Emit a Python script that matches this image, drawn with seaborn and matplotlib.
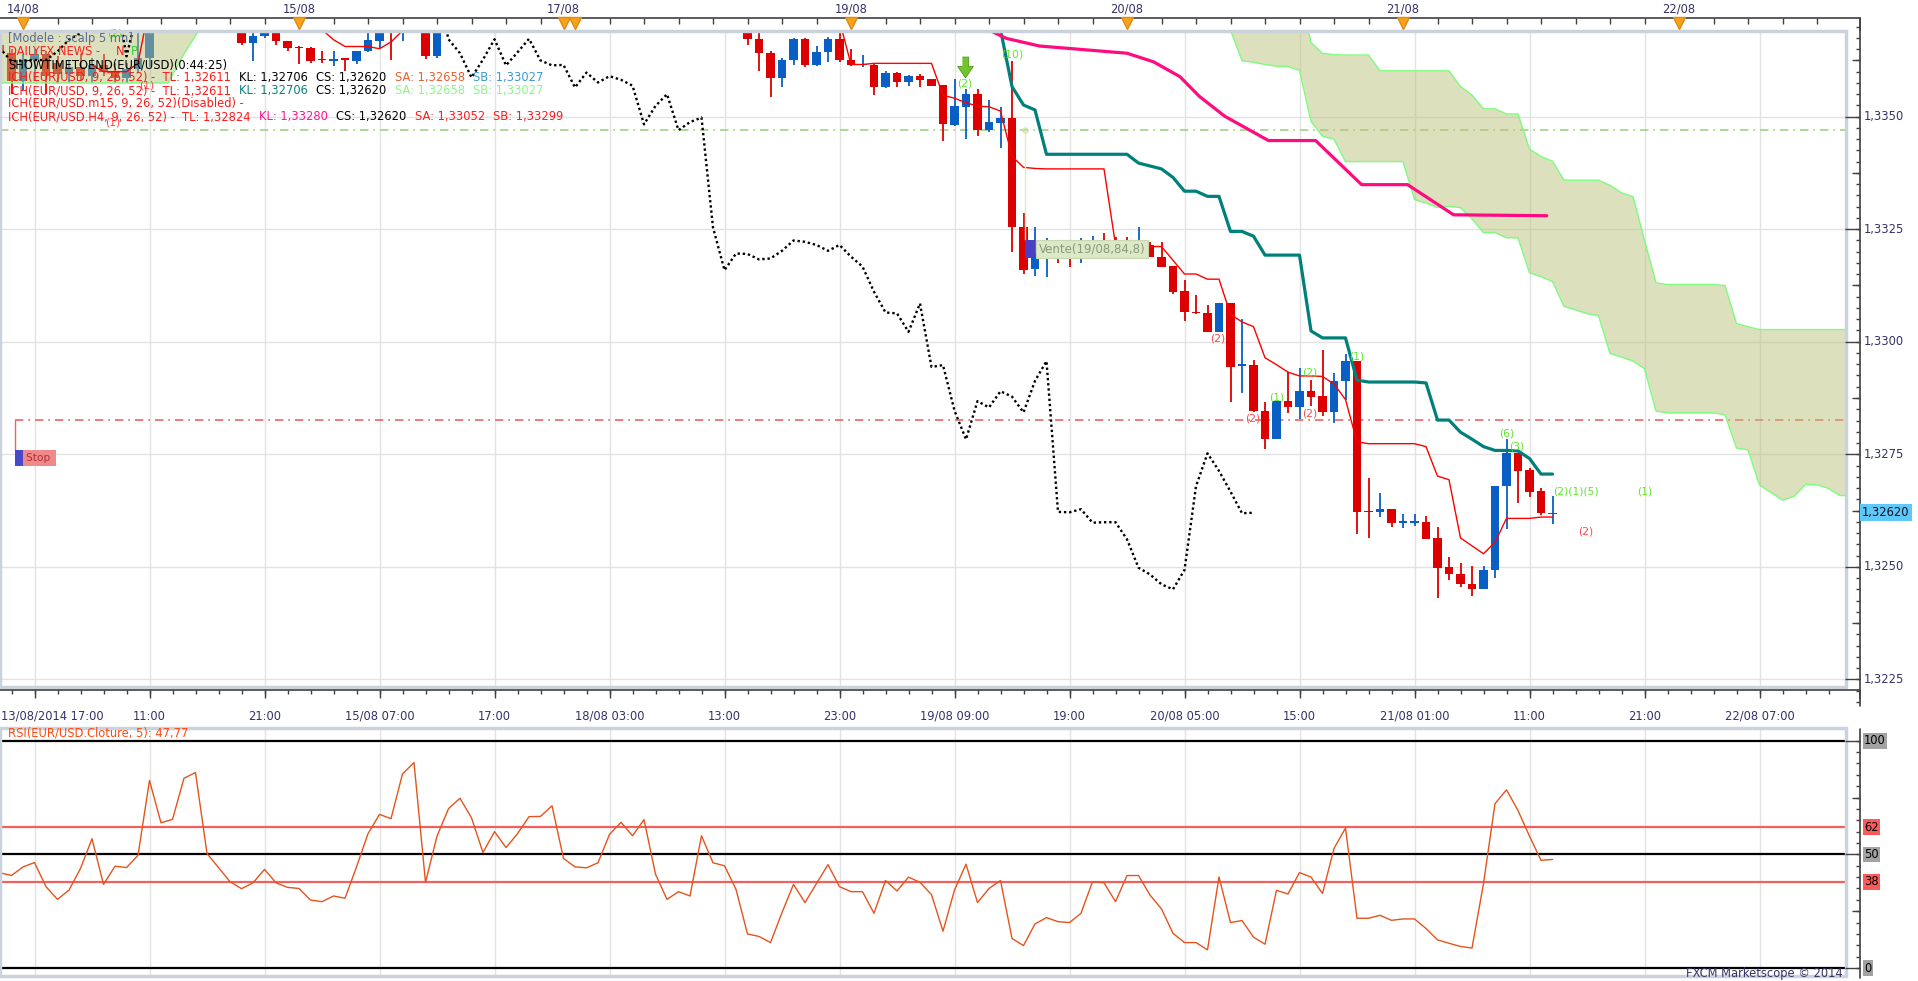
import numpy as np
import pandas as pd
import matplotlib
matplotlib.use("Agg")
import matplotlib.pyplot as plt
import seaborn as sns
from matplotlib.patches import Rectangle
from matplotlib.transforms import blended_transform_factory

sns.set_style("white")
plt.rcParams["font.family"] = ["DejaVu Sans"]

W, H = 1918, 981

# EUR/USD hourly candles, bar 0 = bar on the left edge of the chart
opens = [1.33660, 1.33641, 1.33580, 1.33625, 1.33640, 1.33620, 1.33595, 1.33610, 1.33590, 1.33615,
         1.33600, 1.33585, 1.33605, 1.33630, 1.33720, 1.33780, 1.33760, 1.33740, 1.33770, 1.33750,
         1.33730, 1.33720, 1.33664, 1.33679, 1.33700, 1.33668, 1.33654, 1.33653, 1.33626, 1.33624,
         1.33628, 1.33623, 1.33645, 1.33668, 1.33720, 1.33695, 1.33720, 1.33780, 1.33634, 1.33740,
         1.33800, 1.33860, 1.33970, 1.34050, 1.33930, 1.33870, 1.33900, 1.33940, 1.33980, 1.34010,
         1.33980, 1.33900, 1.33870, 1.33830, 1.33850, 1.33910, 1.33950, 1.33920, 1.33870, 1.33890,
         1.33930, 1.33900, 1.33880, 1.33920, 1.33850, 1.33780, 1.33673, 1.33641, 1.33587, 1.33627,
         1.33672, 1.33614, 1.33643, 1.33673, 1.33626, 1.33614, 1.33615, 1.33565, 1.33598, 1.33576,
         1.33590, 1.33583, 1.33570, 1.33482, 1.33522, 1.33550, 1.33470, 1.33487, 1.33498, 1.33256,
         1.33161, 1.33185, 1.33200, 1.33190, 1.33183, 1.33202, 1.33225, 1.33222, 1.33215, 1.33202,
         1.33215, 1.33189, 1.33168, 1.33113, 1.33065, 1.33063, 1.33022, 1.33085, 1.32947, 1.32948,
         1.32847, 1.32783, 1.32868, 1.32854, 1.32890, 1.32879, 1.32843, 1.32913, 1.32957, 1.32622,
         1.32622, 1.32628, 1.32598, 1.32598, 1.32599, 1.32563, 1.32499, 1.32483, 1.32461, 1.32450,
         1.32493, 1.32679, 1.32752, 1.32715, 1.32668, 1.32617]
highs = [1.33680, 1.33650, 1.33640, 1.33650, 1.33645, 1.33635, 1.33625, 1.33640, 1.33630, 1.33640,
         1.33620, 1.33620, 1.33688, 1.33920, 1.33800, 1.33830, 1.33790, 1.33780, 1.33800, 1.33770,
         1.33770, 1.33730, 1.33685, 1.33710, 1.33710, 1.33668, 1.33656, 1.33655, 1.33645, 1.33645,
         1.33630, 1.33645, 1.33686, 1.33700, 1.33730, 1.33780, 1.33800, 1.33810, 1.33760, 1.33820,
         1.33880, 1.33990, 1.34130, 1.34050, 1.33980, 1.33920, 1.33960, 1.34000, 1.34030, 1.34060,
         1.33990, 1.33950, 1.33900, 1.33880, 1.33930, 1.33970, 1.33990, 1.33940, 1.33910, 1.33950,
         1.33950, 1.33940, 1.33957, 1.33934, 1.33901, 1.33884, 1.33689, 1.33645, 1.33630, 1.33675,
         1.33675, 1.33657, 1.33676, 1.33689, 1.33650, 1.33637, 1.33617, 1.33602, 1.33599, 1.33593,
         1.33595, 1.33584, 1.33571, 1.33583, 1.33562, 1.33562, 1.33537, 1.33521, 1.33624, 1.33287,
         1.33256, 1.33230, 1.33215, 1.33226, 1.33230, 1.33235, 1.33241, 1.33233, 1.33233, 1.33256,
         1.33222, 1.33222, 1.33168, 1.33137, 1.33104, 1.33081, 1.33087, 1.33085, 1.33051, 1.32959,
         1.32867, 1.32868, 1.32933, 1.32941, 1.32916, 1.32982, 1.32931, 1.32973, 1.32957, 1.32698,
         1.32663, 1.32628, 1.32617, 1.32617, 1.32613, 1.32588, 1.32521, 1.32509, 1.32501, 1.32501,
         1.32679, 1.32785, 1.32752, 1.32720, 1.32676, 1.32657]
lows = [1.33630, 1.33550, 1.33560, 1.33580, 1.33550, 1.33575, 1.33575, 1.33580, 1.33575, 1.33590,
        1.33575, 1.33575, 1.33597, 1.33610, 1.33700, 1.33740, 1.33720, 1.33710, 1.33730, 1.33710,
        1.33705, 1.33660, 1.33623, 1.33675, 1.33660, 1.33645, 1.33617, 1.33619, 1.33619, 1.33612,
        1.33602, 1.33617, 1.33643, 1.33653, 1.33625, 1.33668, 1.33710, 1.33628, 1.33630, 1.33720,
        1.33780, 1.33840, 1.33950, 1.33900, 1.33850, 1.33820, 1.33860, 1.33900, 1.33950, 1.33960,
        1.33880, 1.33850, 1.33800, 1.33790, 1.33830, 1.33880, 1.33900, 1.33850, 1.33820, 1.33860,
        1.33880, 1.33850, 1.33860, 1.33830, 1.33760, 1.33659, 1.33602, 1.33543, 1.33567, 1.33615,
        1.33610, 1.33612, 1.33622, 1.33622, 1.33612, 1.33610, 1.33548, 1.33563, 1.33567, 1.33569,
        1.33567, 1.33568, 1.33445, 1.33479, 1.33450, 1.33458, 1.33467, 1.33430, 1.33200, 1.33151,
        1.33146, 1.33144, 1.33174, 1.33167, 1.33176, 1.33195, 1.33210, 1.33205, 1.33195, 1.33195,
        1.33189, 1.33167, 1.33106, 1.33045, 1.33061, 1.33022, 1.33022, 1.32866, 1.32887, 1.32845,
        1.32761, 1.32783, 1.32841, 1.32828, 1.32858, 1.32836, 1.32820, 1.32870, 1.32573, 1.32565,
        1.32611, 1.32588, 1.32586, 1.32591, 1.32561, 1.32430, 1.32470, 1.32454, 1.32436, 1.32450,
        1.32474, 1.32583, 1.32641, 1.32654, 1.32615, 1.32594]
closes = [1.33641, 1.33580, 1.33625, 1.33640, 1.33590, 1.33595, 1.33610, 1.33590, 1.33615, 1.33600,
          1.33585, 1.33605, 1.33630, 1.33720, 1.33780, 1.33760, 1.33740, 1.33770, 1.33750, 1.33730,
          1.33720, 1.33664, 1.33679, 1.33700, 1.33668, 1.33653, 1.33652, 1.33623, 1.33625, 1.33626,
          1.33626, 1.33645, 1.33671, 1.33686, 1.33700, 1.33720, 1.33780, 1.33634, 1.33740, 1.33800,
          1.33860, 1.33970, 1.34050, 1.33930, 1.33870, 1.33900, 1.33940, 1.33980, 1.34010, 1.33980,
          1.33900, 1.33870, 1.33830, 1.33850, 1.33910, 1.33950, 1.33920, 1.33870, 1.33890, 1.33930,
          1.33900, 1.33880, 1.33920, 1.33850, 1.33780, 1.33672, 1.33641, 1.33587, 1.33627, 1.33672,
          1.33614, 1.33643, 1.33673, 1.33625, 1.33614, 1.33615, 1.33565, 1.33598, 1.33576, 1.33590,
          1.33582, 1.33569, 1.33483, 1.33524, 1.33550, 1.33470, 1.33488, 1.33498, 1.33254, 1.33159,
          1.33196, 1.33195, 1.33183, 1.33185, 1.33202, 1.33225, 1.33222, 1.33215, 1.33202, 1.33215,
          1.33189, 1.33167, 1.33111, 1.33065, 1.33063, 1.33022, 1.33085, 1.32944, 1.32948, 1.32847,
          1.32783, 1.32868, 1.32854, 1.32890, 1.32878, 1.32843, 1.32913, 1.32957, 1.32622, 1.32621,
          1.32628, 1.32598, 1.32599, 1.32599, 1.32561, 1.32498, 1.32483, 1.32461, 1.32450, 1.32493,
          1.32679, 1.32752, 1.32713, 1.32667, 1.32619, 1.32620]

# RSI(5) per bar
rsi5 = [41.9, 40.7, 44.5, 46.4, 35.8, 30.2, 34.3, 43.8, 56.9, 36.8,
        44.8, 44.2, 49.6, 82.5, 63.9, 65.4, 83.5, 86.0, 50.4, 44.2,
        38.0, 34.9, 37.5, 43.4, 37.5, 35.5, 35.0, 29.9, 29.2, 31.7,
        30.7, 44.5, 59.1, 67.6, 65.7, 85.4, 90.4, 37.7, 58.0, 70.1,
        74.7, 66.1, 50.8, 60.0, 53.0, 59.1, 66.6, 66.7, 71.4, 48.2,
        44.5, 44.1, 46.3, 58.8, 64.1, 58.2, 65.3, 41.3, 30.2, 33.6,
        31.7, 58.2, 46.3, 45.0, 34.6, 15.0, 13.9, 11.2, 24.4, 36.8,
        28.8, 37.2, 45.5, 35.8, 33.6, 33.6, 24.1, 38.5, 33.9, 40.0,
        37.7, 32.3, 16.2, 34.3, 45.7, 28.8, 35.0, 38.5, 13.0, 9.9,
        19.4, 22.2, 20.4, 20.0, 24.1, 38.0, 37.5, 29.2, 40.7, 40.7,
        32.1, 26.0, 15.3, 11.2, 11.2, 8.0, 40.1, 20.0, 20.9, 13.6,
        10.5, 34.2, 32.6, 42.0, 40.0, 32.8, 52.6, 61.6, 21.9, 21.9,
        23.2, 21.0, 21.6, 21.6, 17.4, 12.4, 10.9, 9.5, 8.8, 37.2,
        72.3, 78.4, 69.3, 58.0, 47.4, 47.77]

# H4 kijun line drawn over the hourly bars
h4_kijun_bar = [84.0, 86.2, 87.5, 90.4, 92.8, 98.0, 100.3, 102.6, 104.3, 106.5,
                110.3, 114.4, 118.4, 122.4, 126.4, 134.5]
h4_kijun = [1.33740, 1.33690, 1.33674, 1.33657, 1.33652, 1.33641, 1.33622, 1.33589, 1.33545, 1.33501,
            1.33447, 1.33447, 1.33349, 1.33349, 1.33282, 1.33280]

# piece of cloud from older bars in the top left corner
old_cloud_bar = [-1.0, 14.6, 16.0, 17.5]
old_cloud_low = [1.33575, 1.33575, 1.33640, 1.33700]
old_cloud_top = 1.33850

entry_level = 1.33470
stop_level = 1.32826
stop_bar, stop_price = 1.3, 1.32742
vente_bar, vente_price = 89.1, 1.33206
arrow_bar, arrow_price = 83.9, 1.33610

signal_bar = [83.9, 88.0, 105.9, 108.9, 111.0, 113.9, 113.9, 118.0, 131.0, 131.9, 137.0, 143.0, 137.9, 12.8, 9.8, 10.0]
signal_price = [1.33574, 1.33639, 1.33008, 1.32830, 1.32876, 1.32931, 1.32841, 1.32967, 1.32797, 1.32768,
                1.32667, 1.32667, 1.32578, 1.33570, 1.33486, 1.33684]
signal_text = ["(2)", "(10)", "(2)", "(2)", "(1)", "(2)", "(2)", "(1)", "(6)", "(3)",
               "(2)(1)(5)", "(1)", "(2)", "(1)", "(1)", "(2)"]
signal_up = [True, True, False, False, True, True, False, True, True, True, True, True, False, False, False, True]

day_labels = ["14/08", "15/08", "17/08", "19/08", "20/08", "21/08", "22/08"]
day_bars = [2, 26, 49, 74, 98, 122, 146]
event_bars = [2, 26, 49, 50, 74, 98, 122, 146]
time_labels = ["13/08/2014 17:00", "11:00", "21:00", "15/08 07:00", "17:00", "18/08 03:00", "13:00", "23:00",
               "19/08 09:00", "19:00", "20/08 05:00", "15:00", "21/08 01:00", "11:00", "21:00", "22/08 07:00"]
time_bars = list(range(3, 160, 10))

RED, BLUE = "#dd0000", "#0a5fc4"
TXT = "#333366"
AXC = "#404040"
FS = 8.3

n = len(closes)
bars = np.arange(n)
df = pd.DataFrame({"bar": bars, "open": opens, "high": highs, "low": lows, "close": closes, "rsi": rsi5})

# ichimoku 9 / 26 / 52
tenkan = (df.high.rolling(9).max() + df.low.rolling(9).min()) / 2
kijun = (df.high.rolling(26).max() + df.low.rolling(26).min()) / 2
cloud = pd.DataFrame({"bar": bars + 26,
                      "a": (tenkan + kijun) / 2,
                      "b": (df.high.rolling(52).max() + df.low.rolling(52).min()) / 2})
lines = pd.DataFrame({"bar": bars, "tenkan": tenkan, "kijun": kijun})
lag = pd.DataFrame({"bar": bars - 26, "close": df.close})

fig = plt.figure(figsize=(W / 100, H / 100), dpi=100)
fig.patch.set_facecolor("white")
ax = fig.add_axes([0, 1 - 687 / H, 1846 / W, (687 - 31) / H])
axr = fig.add_axes([0, 1 - 976 / H, 1846 / W, (976 - 728) / H])
x_max = 1846 / 11.5

for a in (ax, axr):
    a.set_xticks(time_bars)
    a.tick_params(axis="both", length=0, labelbottom=False, labelleft=False)
    for s in a.spines.values():
        s.set_visible(False)
    a.grid(True, axis="x", color="#e2e2e2", lw=1)
    a.set_axisbelow(True)
ax.set_yticks(np.arange(1.3225, 1.33501, 0.0025))
ax.grid(True, axis="y", color="#e2e2e2", lw=1)
axr.set_yticks([])

# horizontal trade levels
ax.hlines(entry_level, 0, x_max, colors="#9fd283", lw=1.2, ls=(0, (5, 3, 1, 3)), zorder=1)
ax.hlines(stop_level, stop_bar, x_max, colors="#f06464", lw=1.2, ls=(0, (5, 3, 1, 3)), zorder=1)

# candles
up = df.close >= df.open
col = np.where(up, BLUE, RED)
body_lo = np.minimum(df.open, df.close)
body_h = np.maximum((df.close - df.open).abs(), 0.000035)
ax.vlines(df.bar, df.low, df.high, colors=col, lw=1.3, zorder=2)
ax.bar(df.bar, body_h, bottom=body_lo, width=0.72, color=col, lw=0, zorder=3)

# cloud
ax.fill_between(cloud.bar, cloud.a, cloud.b, color="#bcc27c", alpha=0.5, lw=0, zorder=3.5)
ax.fill_between(old_cloud_bar, old_cloud_low, old_cloud_top, color="#bcc27c", alpha=0.5, lw=0, zorder=3.5)
sns.lineplot(data=cloud, x="bar", y="a", ax=ax, color="#7dfc7d", lw=1, zorder=3.6)
sns.lineplot(data=cloud, x="bar", y="b", ax=ax, color="#7dfc7d", lw=1, zorder=3.6)
ax.plot(old_cloud_bar, old_cloud_low, color="#7dfc7d", lw=1, zorder=3.6)

# tenkan, kijun, chikou, H4 kijun
sns.lineplot(data=lines, x="bar", y="tenkan", ax=ax, color="#ff0000", lw=1, zorder=4)
sns.lineplot(data=lines, x="bar", y="kijun", ax=ax, color="#00807a", lw=2.3, zorder=4)
ax.plot(lag.bar, lag.close, color="black", lw=1.7, ls=(0, (1, 1.2)), zorder=4)
sns.lineplot(x=h4_kijun_bar, y=h4_kijun, ax=ax, color="#ff0a7f", lw=2.3, sort=False, zorder=4)

# stop marker
ax.vlines(stop_bar, stop_price + 0.000175, stop_level, colors="#f06464", lw=1, zorder=5)
ax.add_patch(Rectangle((stop_bar, stop_price - 0.000175), 0.9, 0.00035, fc="#4848c8", ec="none", zorder=5))
ax.text(stop_bar + 0.95, stop_price, "Stop ", va="center", ha="left", fontsize=7.6, color="#b03030", zorder=5,
        bbox=dict(boxstyle="square,pad=0.25", fc="#f08a8a", ec="none"))

# sell entry marker
ax.vlines(vente_bar, vente_price + 0.0002, entry_level, colors="#e3e9bd", lw=1, zorder=5)
ax.plot(vente_bar, entry_level, "o", mfc="none", mec="#d7dfae", ms=3.5, zorder=5)
ax.add_patch(Rectangle((vente_bar, vente_price - 0.0002), 0.9, 0.0004, fc="#4b3fc4", ec="none", zorder=6))
ax.text(vente_bar + 1.25, vente_price, "Vente(19/08,84,8)", va="center", ha="left", fontsize=8.5,
        color="#8a9a78", zorder=6,
        bbox=dict(boxstyle="square,pad=0.22", fc="#dce8c8", ec="#c8d8b0", lw=0.8))

arrow = [(-0.3, 1), (0.3, 1), (0.3, 0.1), (0.75, 0.1), (0, -1), (-0.75, 0.1), (-0.3, 0.1)]
ax.plot(arrow_bar, arrow_price, marker=arrow, ms=15, color="#72c42c", mec="#4f9a1c", mew=0.6, zorder=7)

for b, p, s, u in zip(signal_bar, signal_price, signal_text, signal_up):
    ax.text(b, p, s, ha="center", va="center", fontsize=7.8, color="#5fe62a" if u else "#ff4848", zorder=7)

# RSI panel
axr.hlines([100, 50, 0], 0, x_max, colors="black", lw=1.6, zorder=1)
axr.hlines([62, 38], 0, x_max, colors="#f06060", lw=1.6, zorder=1)
sns.lineplot(data=df, x="bar", y="rsi", ax=axr, color="#e4541c", lw=1, zorder=3)

for a in (ax, axr):
    a.set_xlabel("")
    a.set_ylabel("")
    a.add_patch(Rectangle((0, 0), 1, 1, transform=a.transAxes, fill=False, ec="#c9d2dd", lw=2.5,
                          clip_on=False, zorder=8))
ax.set_xlim(0, x_max)
ax.set_ylim(1.322329, 1.336904)
axr.set_xlim(0, x_max)
axr.set_ylim(-3.5, 105.6)

# overlay in pixel space for the axes decorations
deco = fig.add_axes([0, 0, 1, 1], zorder=10)
deco.set_xlim(0, W)
deco.set_ylim(H, 0)
deco.axis("off")
deco.patch.set_visible(False)
bx = blended_transform_factory(ax.transData, deco.transData)
by = blended_transform_factory(deco.transData, ax.transData)
byr = blended_transform_factory(deco.transData, axr.transData)

# top date axis
deco.plot([0, 1860], [18, 18], color=AXC, lw=1.2)
deco.vlines(np.arange(2, 160, 3), 18, 24, colors=AXC, lw=1, transform=bx)
deco.vlines([1860], 18, 31, colors=AXC, lw=1.2)
for b, s in zip(day_bars, day_labels):
    deco.text(b, 9, s, transform=bx, ha="center", va="center", fontsize=FS, color=TXT)
deco.plot(event_bars, [23] * len(event_bars), transform=bx, ls="none", marker="v", ms=8,
          color="#f7a21b", mec="#e08a10")

# bottom time axis
deco.plot([0, 1860], [690, 690], color=AXC, lw=1.2)
deco.vlines(time_bars, 690, 698, colors=AXC, lw=1, transform=bx)
deco.vlines(np.arange(1, 160, 2), 690, 694, colors=AXC, lw=1, transform=bx)
deco.vlines([1860], 690, 699, colors=AXC, lw=1.2)
for i, (b, s) in enumerate(zip(time_bars, time_labels)):
    if i == 0:
        deco.text(1, 716, s, ha="left", va="center", fontsize=FS, color=TXT)
    else:
        deco.text(b, 716, s, transform=bx, ha="center", va="center", fontsize=FS, color=TXT)

# right price axis
deco.plot([1860, 1860], [18, 706], color=AXC, lw=1.2)
deco.hlines(np.arange(1.32200, 1.33701, 0.00025), 1856, 1860, colors=AXC, lw=1, transform=by)
deco.hlines(np.arange(1.32375, 1.33701, 0.0025), 1852, 1860, colors=AXC, lw=1, transform=by)
major = np.arange(1.3225, 1.33501, 0.0025)
deco.hlines(major, 1845, 1860, colors=AXC, lw=1, transform=by)
for p in major:
    deco.text(1864, p, f"{p:.4f}".replace(".", ","), transform=by, va="center", ha="left",
              fontsize=FS, color=TXT)
deco.text(1862, closes[-1], f"{closes[-1]:.5f}".replace(".", ","), transform=by, va="center", ha="left",
          fontsize=FS, color="#10102a", bbox=dict(boxstyle="square,pad=0.18", fc="#5ec8f6", ec="none"))

# right RSI axis
deco.plot([1860, 1860], [729, 978], color=AXC, lw=1.2)
deco.hlines(np.arange(0, 101, 5), 1856, 1860, colors=AXC, lw=1, transform=byr)
deco.hlines([25, 75], 1852, 1860, colors=AXC, lw=1, transform=byr)
deco.hlines([0, 50, 100], 1845, 1860, colors=AXC, lw=1, transform=byr)
for v, c in [(100, "#a2a2a2"), (62, "#ff5a5a"), (50, "#a2a2a2"), (38, "#ff5a5a"), (0, "#a2a2a2")]:
    deco.text(1864, v, str(v), transform=byr, va="center", ha="left", fontsize=FS, color="black",
              bbox=dict(boxstyle="square,pad=0.12", fc=c, ec="none"))

deco.text(8, 733.5, "RSI(EUR/USD.Cloture, 5): 47,77", va="center", ha="left", fontsize=FS, color="#ff4a10")
deco.text(1843, 973, "FXCM Marketscope \u00a9 2014", va="center", ha="right", fontsize=FS, color=TXT)

# indicator legend, top left
def legend_line(y, parts):
    s, c = parts[0][:2]
    prev = deco.text(8, y, s, color=c, fontsize=FS, va="bottom", ha="left")
    for part in parts[1:]:
        s, c = part[:2]
        gap = part[2] if len(part) > 2 else 6
        prev = deco.annotate(s, xy=(1, 0), xycoords=prev, xytext=(gap, 0), textcoords="offset points",
                             color=c, fontsize=FS, va="bottom", ha="left")

legend_line(45, [("[Modele : scalp 5 mn]", "#5a6a9a")])
legend_line(58, [("DAILYFX NEWS -", "#ff2020"), ("N", "#ff2020", 11), ("P", "#33cc33", 5)])
legend_line(71, [("SHOWTIMETOEND(EUR/USD)(0:44:25)", "black")])
legend_line(84, [("ICH(EUR/USD, 9, 26, 52) -  TL: 1,32611", "#ff1a1a"), ("KL: 1,32706", "black"),
                 ("CS: 1,32620", "black"), ("SA: 1,32658", "#e8602c"), ("SB: 1,33027", "#3a9ad9")])
legend_line(97, [("ICH(EUR/USD, 9, 26, 52) -  TL: 1,32611", "#ff1a1a"), ("KL: 1,32706", "#108080"),
                 ("CS: 1,32620", "black"), ("SA: 1,32658", "#8cf58c"), ("SB: 1,33027", "#8cf58c")])
legend_line(110, [("ICH(EUR/USD.m15, 9, 26, 52)(Disabled) -", "#ff1a1a")])
legend_line(123, [("ICH(EUR/USD.H4, 9, 26, 52) -  TL: 1,32824", "#ff1a1a"), ("KL: 1,33280", "#ff1493"),
                  ("CS: 1,32620", "black"), ("SA: 1,33052", "#ff1a1a"), ("SB: 1,33299", "#ff1a1a")])

fig.savefig("out.png", dpi=100, facecolor="white")
